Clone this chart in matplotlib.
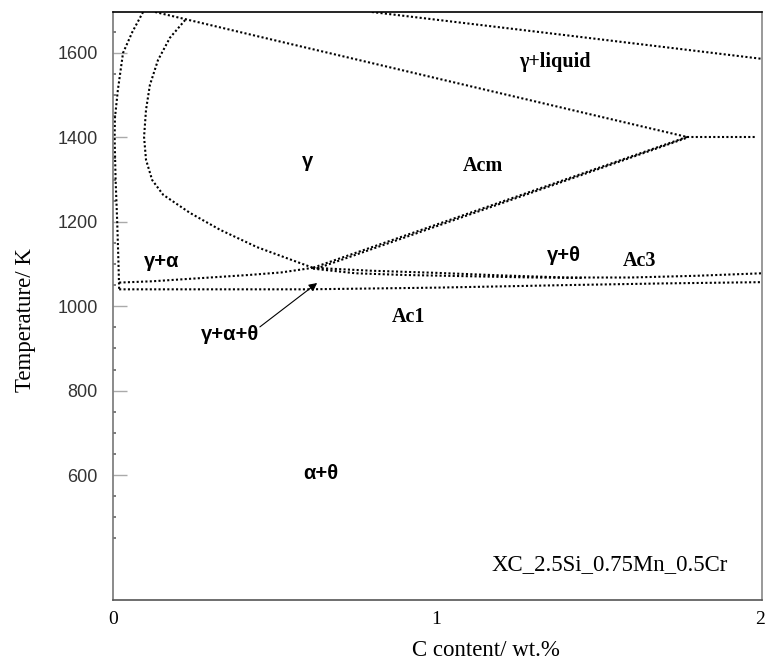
#!/usr/bin/env python3
"""Fe-C isopleth for XC_2.5Si_0.75Mn_0.5Cr (dotted phase boundaries)."""
import numpy as np
import matplotlib
matplotlib.use("Agg")
import matplotlib.pyplot as plt
from matplotlib.ticker import MultipleLocator, FixedLocator

# phase boundaries, (C wt.%, T in K)
outer_x = [0.093, 0.060, 0.031, 0.015, 0.006, 0.005, 0.008, 0.013, 0.017, 0.019]
outer_T = [1697, 1650, 1600, 1512, 1446, 1400, 1300, 1200, 1100, 1040]

loop_x = [0.223, 0.176, 0.139, 0.114, 0.102, 0.096, 0.102, 0.121, 0.155, 0.238,
          0.331, 0.445, 0.526, 0.618]
loop_T = [1678, 1636, 1583, 1524, 1465, 1401, 1347, 1299, 1264, 1221,
          1181, 1140, 1117, 1091]

solidus_x = [0.130, 0.45, 0.80, 1.20, 1.774]
solidus_T = [1697, 1639, 1576, 1504, 1401]

liquidus_x = [0.80, 1.40, 2.006]
liquidus_T = [1697, 1642, 1586]

peri_x = [1.774, 1.985]
peri_T = [1401, 1401]

acm_x = [1.774, 0.618]
acm_T = [1401, 1091]
acm2_x = [1.770, 0.625]
acm2_T = [1398, 1088]

a3_left_x = [0.019, 0.12, 0.22, 0.32, 0.42, 0.52, 0.618]
a3_left_T = [1056, 1059, 1064, 1069, 1074, 1080, 1091]

ac1_x = [0.019, 0.30, 0.60, 1.00, 1.40, 1.70, 2.006]
ac1_T = [1040, 1040, 1040, 1044, 1050, 1054, 1057]

ac3_x = [0.618, 0.80, 1.00, 1.20, 1.40, 1.60, 1.80, 2.006]
ac3_T = [1091, 1084, 1079, 1073, 1068, 1068, 1072, 1078]
ac3b_x = [0.618, 0.75, 0.90, 1.10, 1.30, 1.45]
ac3b_T = [1089, 1078, 1074, 1071, 1068, 1067]

curves = [(outer_x, outer_T), (loop_x, loop_T), (solidus_x, solidus_T),
          (liquidus_x, liquidus_T), (peri_x, peri_T), (acm_x, acm_T),
          (acm2_x, acm2_T), (a3_left_x, a3_left_T), (ac1_x, ac1_T),
          (ac3_x, ac3_T), (ac3b_x, ac3b_T)]

# region labels: text, x, T, font
labels_serif = [("γ+liquid", 1.366, 1579), ("Acm", 1.144, 1332), ("Ac3", 1.629, 1107),
                ("Ac1", 0.912, 975)]
labels_sans = [("γ", 0.60, 1342), ("γ+θ", 1.394, 1121), ("γ+α", 0.151, 1105),
               ("γ+α+θ", 0.362, 934), ("α+θ", 0.643, 603)]

fig = plt.figure(figsize=(7.65, 6.71), dpi=100)
ax = fig.add_axes([113/765, 71/671, 649/765, 588/671])

for xs, ts in curves:
    ax.plot(xs, ts, color="k", lw=1.5, ls=(0, (1, 1.1)), solid_capstyle="butt")

for s, x, t in labels_serif:
    ax.text(x, t, s, ha="center", va="center", fontsize=14.5, fontweight="bold",
            family="Liberation Serif")
for s, x, t in labels_sans:
    ax.text(x, t, s, ha="center", va="center", fontsize=14.5, fontweight="bold",
            family="Liberation Sans")

ax.annotate("", xy=(0.631, 1055), xytext=(0.454, 951),
            arrowprops=dict(arrowstyle="-|>", lw=0.8, color="k", mutation_scale=12,
                            shrinkA=0, shrinkB=0))

ax.text(1.536, 387, "XC_2.5Si_0.75Mn_0.5Cr", ha="center", va="center",
        fontsize=16.5, family="Liberation Serif")

ax.set_xlim(0, 2.006)
ax.set_ylim(304, 1697)

ax.set_xticks([0, 1, 2])
ax.set_xticklabels(["0", "1", "2"], family="Liberation Serif", fontsize=14)
ax.tick_params(axis="x", length=0, pad=8)

ax.yaxis.set_major_locator(FixedLocator([600, 800, 1000, 1200, 1400, 1600]))
ax.yaxis.set_minor_locator(FixedLocator(list(range(450, 1700, 50))))
ax.tick_params(axis="y", which="major", direction="in", length=10, width=1,
               color="#aaaaaa", pad=11, labelsize=13, labelcolor="#333333")
ax.tick_params(axis="y", which="minor", direction="in", length=2.5, width=1.2,
               color="#666666")
for lab in ax.get_yticklabels():
    lab.set_family("Liberation Sans")

ax.spines["top"].set_color("k")
ax.spines["left"].set_color("#777777")
ax.spines["right"].set_color("#888888")
ax.spines["bottom"].set_color("#555555")
for sp in ax.spines.values():
    sp.set_linewidth(1.2)

ax.set_xlabel("C content/ wt.%", family="Liberation Serif", fontsize=16.5)
ax.xaxis.set_label_coords((486 - 113) / 649, -(650 - 600) / 588)
ax.set_ylabel("Temperature/ K", family="Liberation Serif", fontsize=16.5)
ax.yaxis.set_label_coords(-(113 - 25) / 649, 1 - (320 - 12) / 588)
ax.xaxis.label.set_va("center")
ax.yaxis.label.set_va("center")

fig.savefig("out.png", dpi=100)
